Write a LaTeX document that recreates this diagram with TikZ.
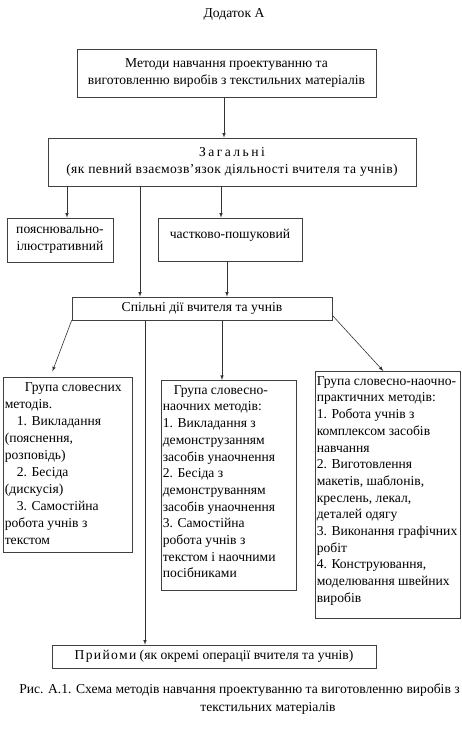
\documentclass[tikz,border=0pt]{standalone}
\usepackage{fontspec}
\setmainfont{Liberation Serif}
\newcommand{\grptext}[3]{\parbox[t][#2][t]{#1}{#3}}
\newcommand{\spaced}[2]{{\addfontfeature{LetterSpace=#1}#2}}

\begin{document}
\begin{tikzpicture}[x=1pt,y=1pt]
\tikzstyle{every node}+=[font=\fontsize{13.6}{17}\selectfont]
\tikzstyle{box}=[draw=black!75, line width=0.6pt, inner sep=0pt, align=center]
\tikzstyle{grp}=[box, anchor=north west, inner xsep=1.5pt, inner ysep=5pt, align=left]
\tikzstyle{arr}=[draw=black!80, line width=0.6pt, -latex]
\useasboundingbox (0,0) rectangle (461,-739);
\node (appx) at (234,-14) {Додаток А};
\node [box, minimum width=299, minimum height=48] (meth) at (226.5,-73)
  {Методи навчання проектуванню та\\виготовленню виробів з текстильних матеріалів};
\node [box, minimum width=368, minimum height=48] (gen) at (232,-162)
  {\spaced{18}{Загальні}\\\spaced{3}{(як певний взаємозв’язок діяльності вчителя та учнів)}};
\node [box, minimum width=106, minimum height=44] (expl) at (60,-240)
  {пояснювально-\\ілюстративний};
\node [box, minimum width=144, minimum height=43, text depth=12] (part) at (230,-239.5)
  {частково-пошуковий};
\node [box, minimum width=260, minimum height=23] (joint) at (202,-308.5)
  {Спільні дії вчителя та учнів};
\node [grp] (verb) at (3,-377)
  {\grptext{126pt}{165pt}{\fontsize{13.6}{17}\selectfont
  \hspace*{20pt}Група словесних\\
  методів.\\
  \hspace*{12pt}1. Викладання\\
  (пояснення,\\
  розповідь)\\
  \hspace*{12pt}2. Бесіда\\
  (дискусія)\\
  \hspace*{12pt}3. Самостійна\\
  робота учнів з\\
  текстом}};
\node [grp] (visu) at (161,-380)
  {\grptext{132pt}{200pt}{\fontsize{13.6}{16.7}\selectfont
  \hspace*{11pt}Група словесно-\\
  наочних методів:\\
  1. Викладання з\\
  демонструзанням\\
  засобів унаочнення\\
  2. Бесіда з\\
  демонструванням\\
  засобів унаочнення\\
  3. Самостійна\\
  робота учнів з\\
  текстом і наочними\\
  посібниками}};
\node [grp] (prac) at (315,-371)
  {\grptext{142pt}{237pt}{\fontsize{13.6}{16.7}\selectfont
  Група словесно-наочно-\\
  практичних методів:\\
  1. Робота учнів з\\
  комплексом засобів\\
  навчання\\
  2. Виготовлення\\
  макетів, шаблонів,\\
  креслень, лекал,\\
  деталей одягу\\
  3. Виконання графічних\\
  робіт\\
  4. Конструювання,\\
  моделювання швейних\\
  виробів}};
\node [box, minimum width=324, minimum height=23] (tech) at (214,-656.5)
  {\spaced{10}{Прийоми} (як окремі операції вчителя та учнів)};
\node (cap1) at (239.5,-690) {Рис. А.1. Схема методів навчання проектуванню та виготовленню виробів з};
\node (cap2) at (268,-708) {текстильних матеріалів};
% arrows from the top
\draw [arr] ([xshift=-2.5]meth.south) -- ([xshift=-2.5]meth.south |- gen.north);
\draw [arr] ([xshift=7]expl.north |- gen.south) -- ([xshift=7]expl.north);
\draw [arr] ([xshift=-62]joint.north |- gen.south) -- ([xshift=-62]joint.north);
\draw [arr] ([xshift=-9]part.north |- gen.south) -- ([xshift=-9]part.north);
\draw [arr] ([xshift=-3]part.south) -- ([xshift=-3]part.south |- joint.north);
% arrows from the joint box
\draw [arr, shorten >=6pt] (joint.south west) -- ([xshift=-17.5]verb.north);
\draw [arr] ([xshift=-57]joint.south) -- ([xshift=-57]joint.south |- tech.north);
\draw [arr] ([xshift=20]joint.south) -- ([xshift=20]joint.south |- visu.north);
\draw [arr] ([yshift=5]joint.south east) -- ([xshift=-4.5]prac.north);
\end{tikzpicture}
\end{document}
